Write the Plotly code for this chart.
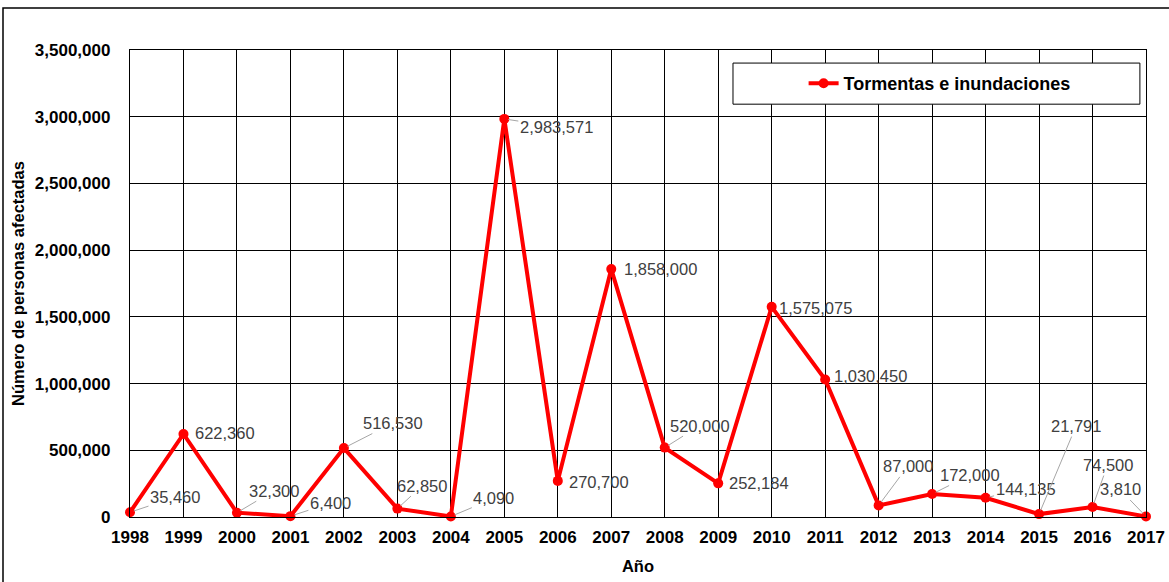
import plotly.graph_objects as go

years = list(range(1998, 2018))
afectados = [35460, 622360, 32300, 6400, 516530, 62850, 4090, 2983571, 270700, 1858000,
             520000, 252184, 1575075, 1030450, 87000, 172000, 144135, 21791, 74500, 3810]
serie_nombre = "Tormentas e inundaciones"
y_ticks = [0, 500000, 1000000, 1500000, 2000000, 2500000, 3000000, 3500000]

# label offsets (pixels) for data labels, and whether a leader line is visible
label_dx = [45, 42, 37, 40, 49, 25, 43, 52, 41, 49, 35, 41, 44, 45, 29, 38, 40, 37, 15, -26]
label_dy = [-15, -1, -22, -13, -25, -23, -18, 8, 1, 0, -22, 0, 1, -4, -39, -19, -9, -88, -42, -27]
leader = [True, False, True, True, True, True, True, True, False, False,
          True, False, False, False, True, True, True, True, True, True]

FONT = "Liberation Sans, Arial, sans-serif"

fig = go.Figure()
fig.add_trace(go.Scatter(
    x=years, y=afectados, mode="lines+markers", name=serie_nombre,
    line=dict(color="#FF0000", width=4),
    marker=dict(color="#FF0000", size=10, symbol="circle"),
    cliponaxis=False, showlegend=True,
))

annotations = []
for x, y, dx, dy, ld in zip(years, afectados, label_dx, label_dy, leader):
    annotations.append(dict(
        x=x, y=y, xref="x", yref="y", text=f"{y:,}",
        showarrow=True, arrowhead=0, arrowwidth=1, standoff=4,
        arrowcolor="#A6A6A6" if ld else "rgba(0,0,0,0)",
        ax=dx, ay=dy, font=dict(family=FONT, size=16.5, color="#404040"),
    ))

shapes = [
    # outer chart border
    dict(type="rect", xref="paper", yref="paper", x0=-0.125, x1=1.06, y0=-0.2, y1=1.09,
         line=dict(color="#000000", width=1.5), fillcolor="rgba(0,0,0,0)", layer="below"),
    # legend box
    dict(type="rect", xref="paper", yref="paper", x0=0.5935, x1=0.994, y0=0.884, y1=0.972,
         line=dict(color="#000000", width=1), fillcolor="#FFFFFF", layer="above"),
]

fig.update_layout(
    width=1169, height=582,
    margin=dict(l=130, r=23, t=50, b=65),
    paper_bgcolor="#FFFFFF", plot_bgcolor="#FFFFFF",
    font=dict(family=FONT, color="#000000"),
    showlegend=True,
    legend=dict(x=0.663, y=0.928, xanchor="left", yanchor="middle",
                bgcolor="rgba(0,0,0,0)", borderwidth=0,
                font=dict(family=FONT, size=18, color="#000000", weight="bold")),
    annotations=annotations,
    shapes=shapes,
    xaxis=dict(
        range=[1998, 2017], tickmode="array", tickvals=years,
        ticktext=[str(y) for y in years], automargin=False,
        showgrid=True, gridcolor="#000000", gridwidth=1.3,
        showline=True, linecolor="#000000", linewidth=1.3, mirror=True,
        ticks="", zeroline=False,
        tickfont=dict(family=FONT, size=17, color="#000000", weight="bold"),
        ticklabelstandoff=4,
        title=dict(text="Año", font=dict(family=FONT, size=16.5, color="#000000", weight="bold"),
                   standoff=14),
    ),
    yaxis=dict(
        range=[0, 3500000], tickmode="array", tickvals=y_ticks,
        ticktext=[f"{v:,}" for v in y_ticks], automargin=False,
        showgrid=True, gridcolor="#000000", gridwidth=1.3,
        showline=True, linecolor="#000000", linewidth=1.3, mirror=True,
        ticks="", zeroline=False,
        tickfont=dict(family=FONT, size=17, color="#000000", weight="bold"),
        ticklabelstandoff=15,
        title=dict(text="Número de personas afectadas",
                   font=dict(family=FONT, size=16.5, color="#000000", weight="bold"),
                   standoff=6),
    ),
)

fig.write_html("out.html")
